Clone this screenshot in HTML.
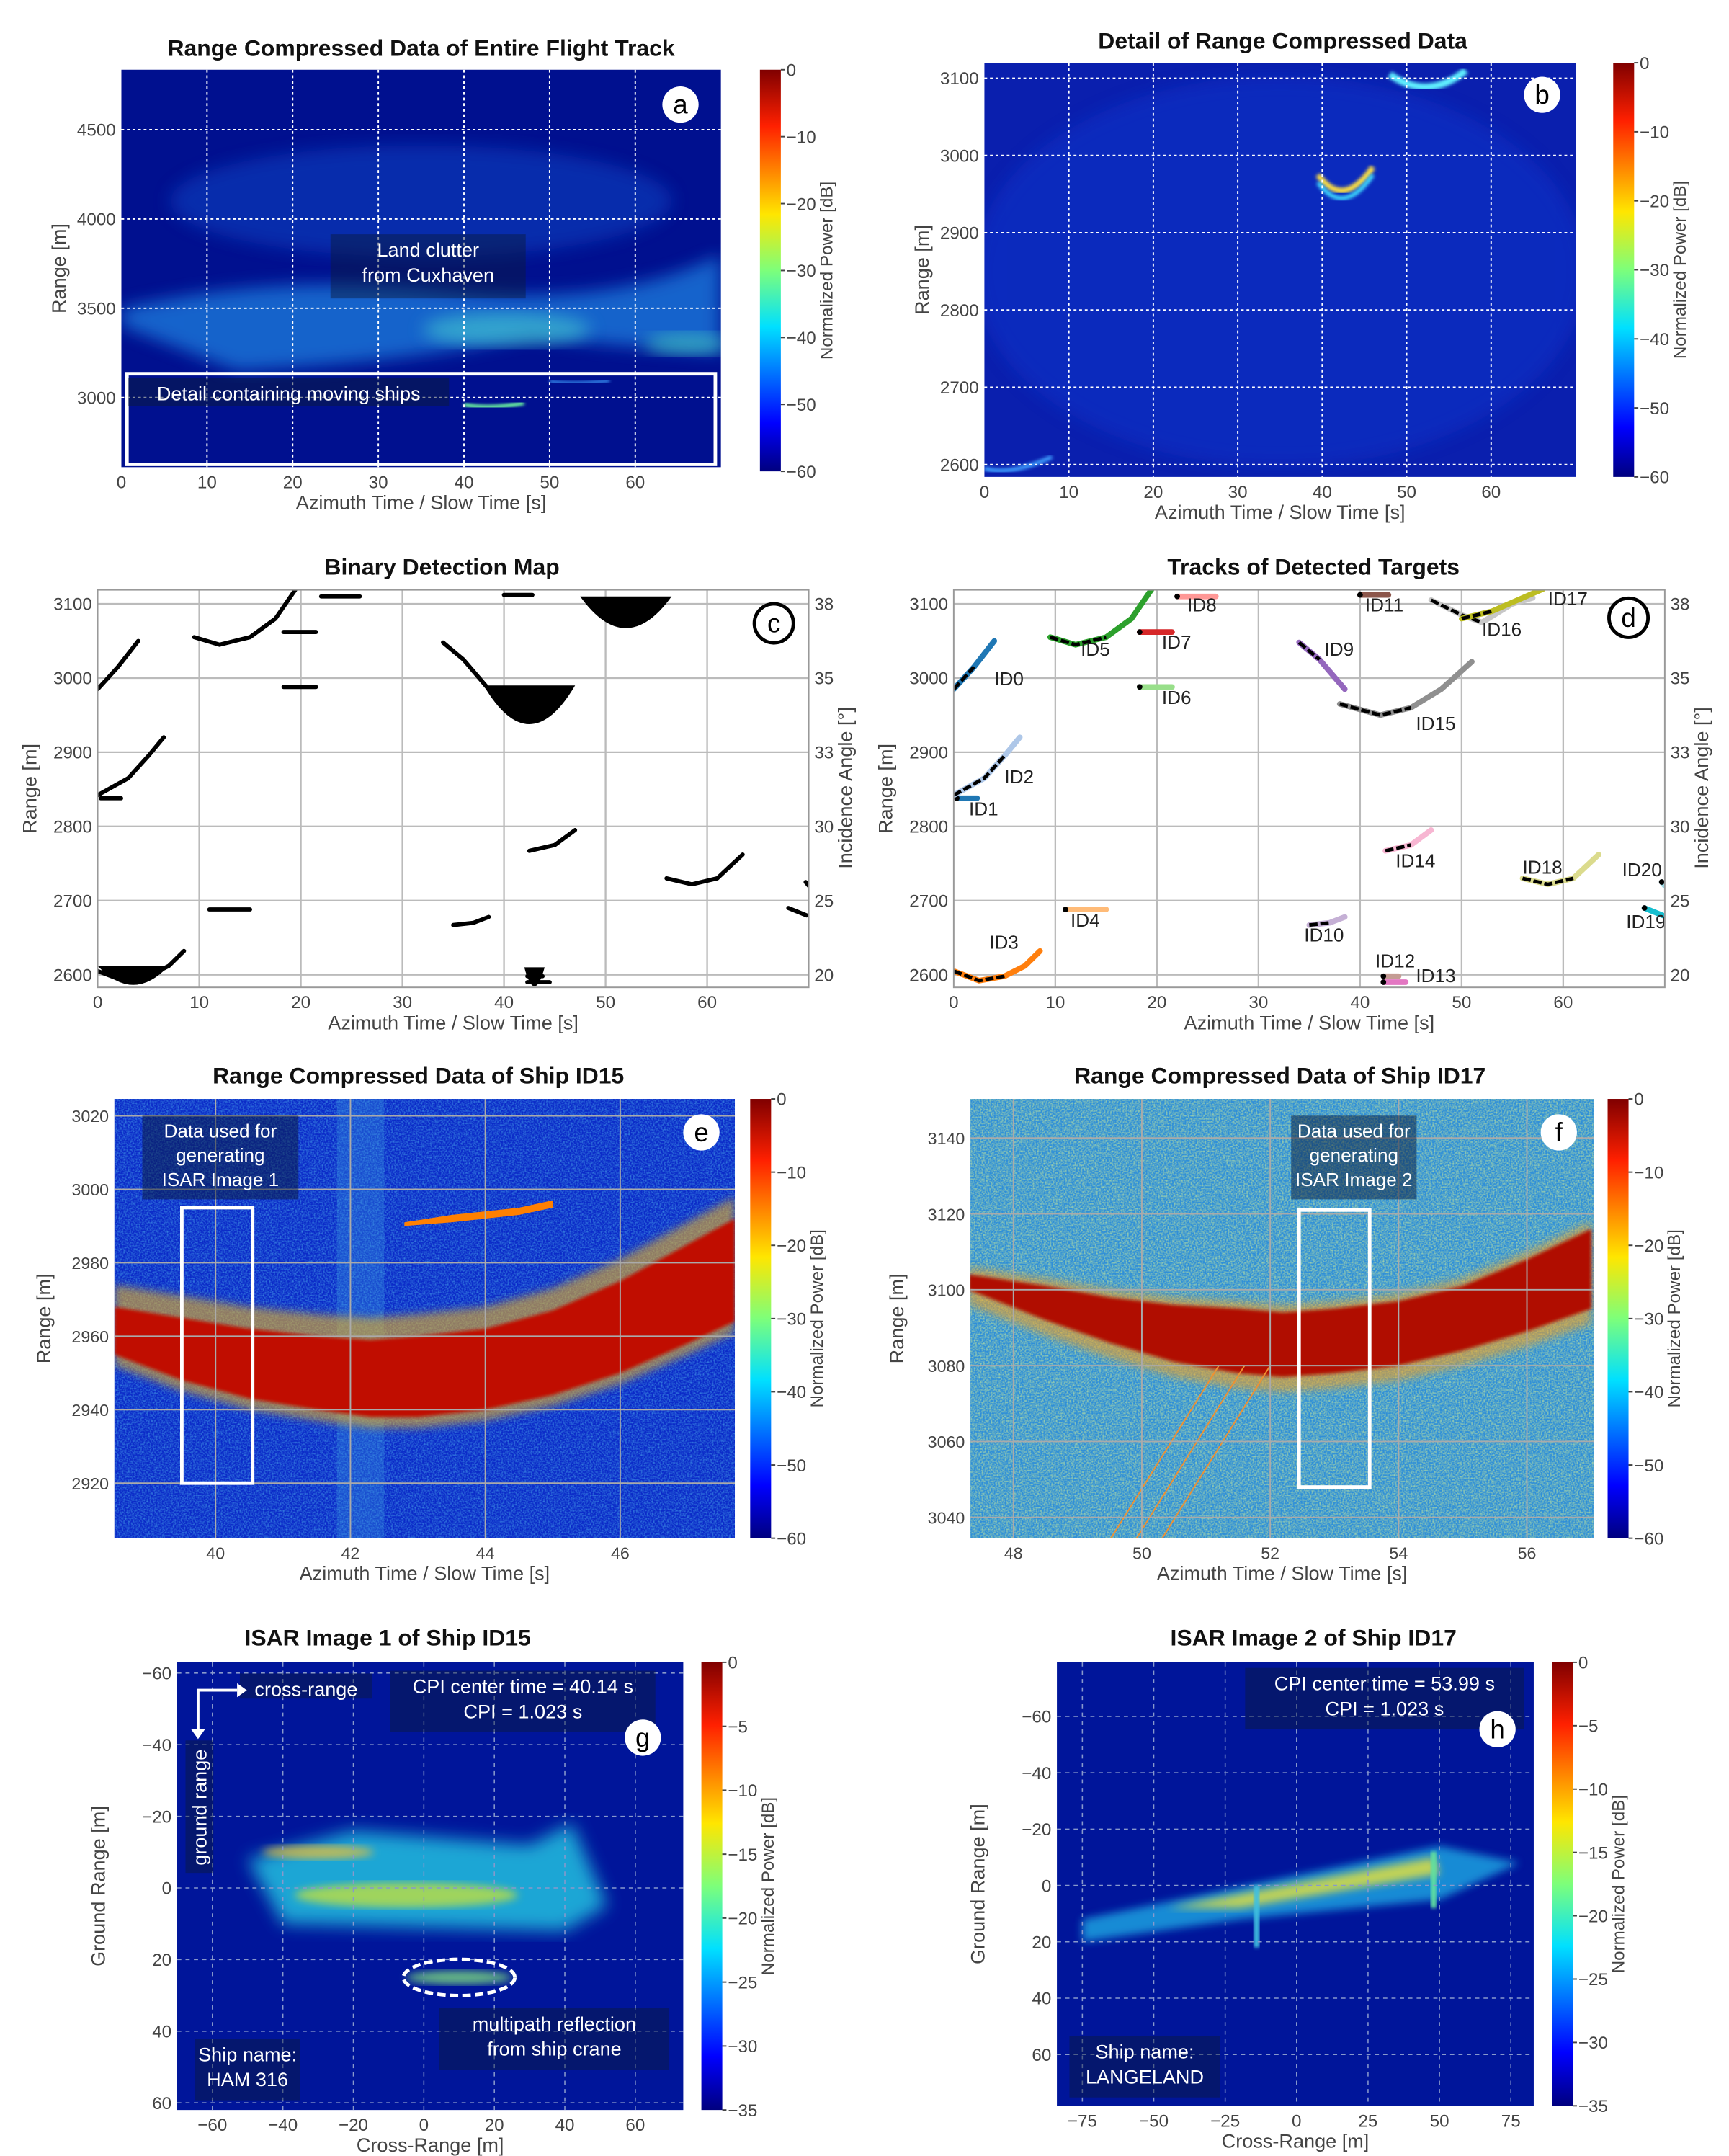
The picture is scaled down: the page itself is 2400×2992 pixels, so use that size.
<!DOCTYPE html>
<html><head><meta charset="utf-8"><style>
html,body{margin:0;padding:0;background:#fff}
svg{display:block}
text{font-family:"Liberation Sans",sans-serif}
</style></head><body>
<svg id="fig" xmlns="http://www.w3.org/2000/svg" width="2400" height="2992" viewBox="0 0 1240 1546">
<defs>
<linearGradient id="jet" x1="0" y1="1" x2="0" y2="0">
<stop offset="0" stop-color="#00007f"/><stop offset="0.12" stop-color="#0000ff"/><stop offset="0.36" stop-color="#00e0ff"/><stop offset="0.5" stop-color="#7dff7a"/><stop offset="0.64" stop-color="#ffe600"/><stop offset="0.86" stop-color="#ff2000"/><stop offset="1" stop-color="#800000"/>
</linearGradient>
<filter id="blur3"><feGaussianBlur stdDeviation="3"/></filter>
<filter id="blur6"><feGaussianBlur stdDeviation="6"/></filter>
<filter id="blur1"><feGaussianBlur stdDeviation="1.2"/></filter>
<filter id="noiseE" x="0" y="0" width="1" height="1"><feTurbulence type="fractalNoise" baseFrequency="0.9" numOctaves="1" seed="3"/><feColorMatrix values="0 0 0 0 0.1  0 0 0 0 0.55  0 0 0 0 0.9  0 0 0 1.2 -0.45"/></filter>
<filter id="noiseF" x="0" y="0" width="1" height="1"><feTurbulence type="fractalNoise" baseFrequency="0.9" numOctaves="1" seed="7"/><feColorMatrix values="0 0 0 0 0.7  0 0 0 0 0.9  0 0 0 0 0.3  0 0 0 1.4 -0.5"/></filter>
<clipPath id="clipA"><rect x="87" y="50" width="430" height="285"/></clipPath>
<clipPath id="clipB"><rect x="706" y="45" width="424" height="297"/></clipPath>
<clipPath id="clipC"><rect x="70" y="423" width="510" height="285"/></clipPath>
<clipPath id="clipD"><rect x="684" y="423" width="510" height="285"/></clipPath>
<clipPath id="clipE"><rect x="82" y="788" width="445" height="315"/></clipPath>
<clipPath id="clipF"><rect x="696" y="788" width="447" height="315"/></clipPath>
<clipPath id="clipG"><rect x="127" y="1192" width="363" height="321"/></clipPath>
<clipPath id="clipH"><rect x="758" y="1192" width="342" height="318"/></clipPath>
</defs>
<g id="root"></g>
</svg>
<script>
// ---------- data ----------
const timeTicksA = [0,10,20,30,40,50,60];
const rangeTicksA = [3000,3500,4000,4500];
const rangeTicksB = [2600,2700,2800,2900,3000,3100];
const angleTicks = [20,25,30,33,35,38];
const rangeTicksE = [2920,2940,2960,2980,3000,3020];
const timeTicksE = [40,42,44,46];
const rangeTicksF = [3040,3060,3080,3100,3120,3140];
const timeTicksF = [48,50,52,54,56];
const crossTicksG = [-60,-40,-20,0,20,40,60];
const groundTicksG = [-60,-40,-20,0,20,40,60];
const crossTicksH = [-75,-50,-25,0,25,50,75];
const groundTicksH = [-60,-40,-20,0,20,40,60];
const cbTicks60 = [0,-10,-20,-30,-40,-50,-60];
const cbTicks35 = [0,-5,-10,-15,-20,-25,-30,-35];
const trackIds = ["ID0","ID1","ID2","ID3","ID4","ID5","ID6","ID7","ID8","ID9","ID10","ID11","ID12","ID13","ID14","ID15","ID16","ID17","ID18","ID19","ID20"];
const trackColors = ["#1f77b4","#1f77b4","#aec7e8","#ff7f0e","#ffbb78","#2ca02c","#98df8a","#d62728","#ff9896","#9467bd","#c5b0d5","#8c564b","#c49c94","#e377c2","#f7b6d2","#8f8f8f","#c7c7c7","#bcbd22","#dbdb8d","#17becf","#9edae5"];
const trackPoints = [
 [[0,2985],[2,3015],[4,3050]],
 [[0.3,2838],[2.3,2838]],
 [[0,2842],[3,2865],[5,2895],[6.5,2920]],
 [[0,2605],[2.5,2592],[5,2598],[7,2612],[8.5,2632]],
 [[11,2688],[15,2688]],
 [[9.5,3055],[12,3045],[15,3055],[17.5,3080],[19.5,3120]],
 [[18.3,2988],[21.5,2988]],
 [[18.3,3062],[21.5,3062]],
 [[22,3110],[25.8,3110]],
 [[34,3048],[36,3025],[38.5,2985]],
 [[35,2667],[37,2670],[38.5,2678]],
 [[40,3112],[42.8,3112]],
 [[42.3,2598],[43.8,2598]],
 [[42.3,2590],[44.5,2590]],
 [[42.5,2767],[45,2775],[47,2795]],
 [[38,2965],[42,2950],[45,2960],[48,2985],[51,3022]],
 [[47,3105],[50,3085],[52,3075],[55,3100],[57,3108]],
 [[50,3080],[53,3090],[58,3120]],
 [[56,2730],[58.5,2722],[61,2730],[63.5,2762]],
 [[68,2690],[69.8,2680]],
 [[69.7,2725],[70,2720]]
];
const trackLabelPos = [[4,2990],[1.5,2815],[5,2858],[3.5,2635],[11.5,2665],[12.5,3030],[20.5,2965],[20.5,3040],[23,3090],[36.5,3030],[34.5,2645],[40.5,3090],[41.5,2610],[45.5,2590],[43.5,2745],[45.5,2930],[52,3057],[58.5,3098],[56,2736],[66.2,2663],[65.8,2733]];
// binary map blobs [t0, t1, rangeBottom, rangeTop]
const blobT = [[38,47,2935,2990],[47.5,56.5,3065,3110],[0,7,2585,2612],[42,44,2583,2610]];
// panel e/f arc bands: azimuth samples and band lower/upper range
const arcTimeE = [38.5,39.5,40.5,41.5,42.3,43,44,45,46,47,47.7];
const arcLowE = [2955,2948,2943,2940,2938,2938,2940,2944,2950,2958,2964];
const arcHighE = [2968,2965,2962,2960,2959,2960,2962,2967,2975,2985,2992];
const arcTimeF = [47.3,48.5,49.5,50.5,51.5,52.2,53,54,55,56,57];
const arcLowF = [3100,3092,3086,3081,3078,3077,3078,3080,3084,3089,3095];
const arcHighF = [3104,3101,3098,3096,3095,3094,3095,3097,3101,3108,3116];

// ---------- helpers ----------
const NS="http://www.w3.org/2000/svg";
const root=document.getElementById('root');
function el(tag,attrs,parent,txt){const e=document.createElementNS(NS,tag);for(const k in attrs)e.setAttribute(k,attrs[k]);if(txt!==undefined)e.textContent=txt;(parent||root).appendChild(e);return e;}
function lin(d0,d1,r0,r1){return v=>r0+(v-d0)/(d1-d0)*(r1-r0);}
function panel(p){
  p.sx=lin(p.xd[0],p.xd[1],p.px[0],p.px[1]);
  p.sy=lin(p.yd[0],p.yd[1],p.py[0],p.py[1]);
  p.g=el('g',{});
  
  
  return p;
}
function frame(p,bg){
  const r=el('rect',{x:p.px[0],y:p.py[0],width:p.px[1]-p.px[0],height:p.py[1]-p.py[0],fill:bg},p.g);
  
  
}
function grid(p,xt,yt,col,dash,w){
  const g=el('g',{'clip-path':p.clip},p.g);
  
  
  xt.forEach(v=>el('line',{x1:p.sx(v),x2:p.sx(v),y1:p.py[0],y2:p.py[1],stroke:col,'stroke-width':w,'stroke-dasharray':dash},g));
  yt.forEach(v=>el('line',{y1:p.sy(v),y2:p.sy(v),x1:p.px[0],x2:p.px[1],stroke:col,'stroke-width':w,'stroke-dasharray':dash},g));
}
function axes(p,xt,yt,xl,yl,fs){
  fs=fs||12.5;
  const gx=el('g',{},p.g);
  
  
  xt.forEach(v=>{const t=el('text',{x:p.sx(v),y:p.py[1]+15,'font-size':fs,'text-anchor':'middle',fill:'#444'},gx,String(v).replace('-','−'));});
  const xt2=el('text',{x:(p.px[0]+p.px[1])/2,y:p.py[1]+30,'font-size':14,'text-anchor':'middle',fill:'#444'},gx,xl);
  
  
  const gy=el('g',{},p.g);
  
  
  yt.forEach(v=>{const t=el('text',{x:p.px[0]-4,y:p.sy(v)+4.5,'font-size':fs,'text-anchor':'end',fill:'#444'},gy,String(v).replace('-','−'));});
  const yx=p.px[0]-(p.ylo||40), yy=(p.py[0]+p.py[1])/2;
  const yt2=el('text',{x:yx,y:yy,'font-size':14,'text-anchor':'middle',fill:'#444',transform:`rotate(-90 ${yx} ${yy})`},gy,yl);
  
  
}
function title(x,y,t){const e=el('text',{x:x,y:y,'font-size':16.5,'font-weight':'bold','text-anchor':'middle',fill:'#111'},root,t);}
function badge(x,y,t,dark){const g=el('g',{});
  el('circle',{cx:x,cy:y,r:dark?14:13,fill:'#fff',stroke:dark?'#000':'none','stroke-width':2.5},g);
  el('text',{x:x,y:y+6.5,'font-size':19,'text-anchor':'middle',fill:'#000'},g,t);}
function colorbar(x,y0,y1,ticks,vmin,label){
  const g=el('g',{});
  el('rect',{x:x,y:y0,width:15,height:y1-y0,fill:'url(#jet)'},g);
  const s=lin(0,vmin,y0,y1);
  ticks.forEach(v=>{el('line',{x1:x+15,x2:x+18,y1:s(v),y2:s(v),stroke:'#444'},g);const t=el('text',{x:x+19,y:s(v)+4.5,'font-size':12.5,fill:'#444'},g,String(v).replace('-','−'));});
  const cx=x+52,cy=(y0+y1)/2;
  const lt=el('text',{x:cx,y:cy,'font-size':12.5,'text-anchor':'middle',fill:'#444',transform:`rotate(-90 ${cx} ${cy})`},g,label);
  
}
function textBox(x,y,w,h,lines,fs,parent,opacity){
  const g=el('g',{},parent);
  el('rect',{x:x,y:y,width:w,height:h,fill:'#0a1a3a','fill-opacity':opacity||0.6},g);
  lines.forEach((l,i)=>el('text',{x:x+w/2,y:y+fs+2+i*(fs+4),'font-size':fs,'text-anchor':'middle',fill:'#fff'},g,l));
  return g;
}
function pathFrom(p,pts){return pts.map((q,i)=>(i?'L':'M')+p.sx(q[0]).toFixed(1)+' '+p.sy(q[1]).toFixed(1)).join(' ');}
const CB='Normalized Power [dB]';
const AZ='Azimuth Time / Slow Time [s]';

// ---------- panel a ----------
title(302,40,'Range Compressed Data of Entire Flight Track');
const A=panel({name:'panel-a',px:[87,517],xd:[0,70],py:[50,335],yd:[4836,2610],clip:'url(#clipA)'});
frame(A,'#00108f');
{const g=el('g',{'clip-path':A.clip},A.g);
 el('path',{d:`M87 ${A.sy(3500)} Q200 ${A.sy(3700)} 320 ${A.sy(3600)} T517 ${A.sy(3800)} L517 ${A.sy(3250)} Q420 ${A.sy(3300)} 380 ${A.sy(3350)} Q300 ${A.sy(3200)} 170 ${A.sy(3150)} Q120 ${A.sy(3300)} 87 ${A.sy(3400)} Z`,fill:'#1f7fe0',filter:'url(#blur6)',opacity:0.75},g);
 el('ellipse',{cx:A.sx(45),cy:A.sy(3380),rx:60,ry:12,fill:'#40c0d0',filter:'url(#blur6)',opacity:0.7},g);
 el('ellipse',{cx:A.sx(66),cy:A.sy(3300),rx:30,ry:8,fill:'#40c0c0',filter:'url(#blur6)',opacity:0.7},g);
 el('ellipse',{cx:A.sx(35),cy:A.sy(4100),rx:180,ry:40,fill:'#0d40c0',filter:'url(#blur6)',opacity:0.6},g);
 el('path',{d:`M${A.sx(40)} ${A.sy(2960)} Q${A.sx(43)} ${A.sy(2930)} ${A.sx(47)} ${A.sy(2970)}`,stroke:'#70ffa0','stroke-width':3,fill:'none',filter:'url(#blur1)'},g);
 el('path',{d:`M${A.sx(50)} ${A.sy(3090)} Q${A.sx(53)} ${A.sy(3070)} ${A.sx(57)} ${A.sy(3095)}`,stroke:'#40a0ff','stroke-width':2,fill:'none',filter:'url(#blur1)'},g);}
grid(A,[10,20,30,40,50,60],rangeTicksA,'#fff','2,2',1);
textBox(237,168,140,46,['Land clutter','from Cuxhaven'],14,A.g,0.45);
{const r=el('rect',{x:91,y:268,width:422,height:65,fill:'none',stroke:'#fff','stroke-width':2.5},A.g);}
textBox(92,271,230,20,['Detail containing moving ships'],14,A.g,0.5);
axes(A,timeTicksA,rangeTicksA,AZ,'Range [m]');
badge(488,75,'a',false);
colorbar(545,50,338,cbTicks60,-60,CB);

// ---------- panel b ----------
title(920,35,'Detail of Range Compressed Data');
const B=panel({name:'panel-b',px:[706,1130],xd:[0,70],py:[45,342],yd:[3120,2584],clip:'url(#clipB)'});
frame(B,'#0a1fae');
{const g=el('g',{'clip-path':B.clip},B.g);
 el('ellipse',{cx:B.sx(35),cy:B.sy(2850),rx:220,ry:140,fill:'#1030c8',filter:'url(#blur6)',opacity:0.6},g);
 el('path',{d:`M${B.sx(39.5)} ${B.sy(2975)} Q${B.sx(42.5)} ${B.sy(2930)} ${B.sx(46)} ${B.sy(2985)}`,stroke:'#ffe040','stroke-width':4,fill:'none',filter:'url(#blur1)'},g);
 el('path',{d:`M${B.sx(39.5)} ${B.sy(2965)} Q${B.sx(42.5)} ${B.sy(2920)} ${B.sx(46)} ${B.sy(2975)}`,stroke:'#40e0ff','stroke-width':3,fill:'none',filter:'url(#blur1)'},g);
 el('path',{d:`M${B.sx(48)} ${B.sy(3105)} Q${B.sx(52.5)} ${B.sy(3070)} ${B.sx(57)} ${B.sy(3110)}`,stroke:'#60f0ff','stroke-width':5,fill:'none',filter:'url(#blur1)'},g);
 el('path',{d:`M${B.sx(0)} ${B.sy(2595)} Q${B.sx(3)} ${B.sy(2585)} ${B.sx(8)} ${B.sy(2610)}`,stroke:'#40a0ff','stroke-width':3,fill:'none',filter:'url(#blur1)'},g);}
grid(B,[10,20,30,40,50,60],rangeTicksB,'#fff','2,2',1);
axes(B,timeTicksA,rangeTicksB,AZ,'Range [m]');
badge(1106,68,'b',false);
colorbar(1157,45,342,cbTicks60,-60,CB);

// ---------- panel c ----------
title(317,412,'Binary Detection Map');
const C=panel({name:'panel-c',px:[70,580],xd:[0,70],py:[423,708],yd:[3118.8,2583],clip:'url(#clipC)',ylo:44});
frame(C,'#fff');
grid(C,[10,20,30,40,50,60],rangeTicksB,'#bbb','',1.2);
{const g=el('g',{'clip-path':C.clip},C.g);
 trackPoints.forEach((pts,i)=>{if(i===15||i===16||i===17)return;const pth=el('path',{d:pathFrom(C,pts),stroke:'#000','stroke-width':3,fill:'none','stroke-linecap':'round','stroke-linejoin':'round'},g);});
 blobT.forEach(b=>{const cx=(C.sx(b[0])+C.sx(b[1]))/2;const top=C.sy(b[3]),bot=C.sy(b[2]);
  const e=el('path',{d:`M${C.sx(b[0])} ${top} Q${cx} ${bot+(bot-top)*0.9} ${C.sx(b[1])} ${top} Z`,fill:'#000'},g);});}
el('rect',{x:70,y:423,width:510,height:285,fill:'none',stroke:'#999'},C.g);
axes(C,timeTicksA,rangeTicksB,AZ,'Range [m]');
{angleTicks.forEach((v,i)=>{const t=el('text',{x:584,y:C.sy(rangeTicksB[i])+4.5,'font-size':12.5,fill:'#444'},C.g,String(v));});
 const t=el('text',{x:611,y:565,'font-size':14,'text-anchor':'middle',fill:'#444',transform:'rotate(-90 611 565)'},C.g,'Incidence Angle [°]');}
badge(555,447,'c',true);

// ---------- panel d ----------
title(942,412,'Tracks of Detected Targets');
const D=panel({name:'panel-d',px:[684,1194],xd:[0,70],py:[423,708],yd:[3118.8,2583],clip:'url(#clipD)',ylo:44});
frame(D,'#fff');
grid(D,[10,20,30,40,50,60],rangeTicksB,'#bbb','',1.2);
{const g=el('g',{'clip-path':D.clip},D.g);
 const gl=el('g',{},D.g);
 trackPoints.forEach((pts,i)=>{
  const pth=el('path',{d:pathFrom(D,pts),stroke:trackColors[i],'stroke-width':4,fill:'none','stroke-linecap':'round'},g);
  
  
  const half=pts.slice(0,Math.max(2,Math.ceil(pts.length*0.6)));
  if(pts.length>2)el('path',{d:pathFrom(D,half),stroke:'#000','stroke-width':2.5,fill:'none','stroke-dasharray':'6,2'},g);
  else el('circle',{cx:D.sx(pts[0][0]),cy:D.sy(pts[0][1]),r:2,fill:'#000'},g);
  const lp=trackLabelPos[i];
  const t=el('text',{x:D.sx(lp[0]),y:D.sy(lp[1]),'font-size':13.5,fill:'#222'},gl,trackIds[i]);
  
  
 });}
el('rect',{x:684,y:423,width:510,height:285,fill:'none',stroke:'#999'},D.g);
axes(D,timeTicksA,rangeTicksB,AZ,'Range [m]');
{angleTicks.forEach((v,i)=>{const t=el('text',{x:1198,y:D.sy(rangeTicksB[i])+4.5,'font-size':12.5,fill:'#444'},D.g,String(v));});
 const t=el('text',{x:1225,y:565,'font-size':14,'text-anchor':'middle',fill:'#444',transform:'rotate(-90 1225 565)'},D.g,'Incidence Angle [°]');}
badge(1168,443,'d',true);

// ---------- band helper ----------
function band(p,ts,lo,hi){const up=ts.map((t,i)=>[t,hi[i]]);const dn=ts.map((t,i)=>[t,lo[i]]).reverse();return pathFrom(p,up)+' '+pathFrom(p,dn).replace('M','L')+' Z';}

// ---------- panel e ----------
title(300,777,'Range Compressed Data of Ship ID15');
const E=panel({name:'panel-e',px:[82,527],xd:[38.5,47.7],py:[788,1103],yd:[3024.6,2905],clip:'url(#clipE)',ylo:46});
frame(E,'#0b2bc8');
{const g=el('g',{'clip-path':E.clip},E.g);
 el('rect',{x:82,y:788,width:445,height:315,filter:'url(#noiseE)'},g);
 el('rect',{x:E.sx(41.8),y:788,width:E.sx(42.5)-E.sx(41.8),height:315,fill:'#3aa0e0',opacity:0.3},g);
 el('path',{d:band(E,arcTimeE,arcLowE.map(v=>v-3),arcHighE.map(v=>v+6)),fill:'#e8b020',opacity:0.6,filter:'url(#blur3)'},g);
 const bp=el('path',{d:band(E,arcTimeE,arcLowE,arcHighE),fill:'#c01000',filter:'url(#blur1)'},g);
 
 
 el('path',{d:band(E,[42.8,43.5,44.5,45],[2990,2991,2993,2995],[2991,2993,2995,2997]),fill:'#ff8000'},g);}
grid(E,timeTicksE,rangeTicksE,'#aaa','',1);
textBox(102,800,112,60,['Data used for','generating','ISAR Image 1'],13.5,E.g,0.5);
el('rect',{x:E.sx(39.5),y:E.sy(2995),width:E.sx(40.55)-E.sx(39.5),height:E.sy(2920)-E.sy(2995),fill:'none',stroke:'#fff','stroke-width':2.5},E.g);
axes(E,timeTicksE,rangeTicksE,AZ,'Range [m]',12);
badge(503,812,'e',false);
colorbar(538,788,1103,cbTicks60,-60,CB);

// ---------- panel f ----------
title(918,777,'Range Compressed Data of Ship ID17');
const F=panel({name:'panel-f',px:[696,1143],xd:[47.33,57.04],py:[788,1103],yd:[3150.3,3034.5],clip:'url(#clipF)',ylo:48});
frame(F,'#2f8fd8');
{const g=el('g',{'clip-path':F.clip},F.g);
 el('rect',{x:696,y:788,width:447,height:315,filter:'url(#noiseF)'},g);
 el('path',{d:band(F,arcTimeF,arcLowF.map(v=>v-4),arcHighF.map(v=>v+2)),fill:'#f0a020',opacity:0.6,filter:'url(#blur3)'},g);
 const bp=el('path',{d:band(F,arcTimeF,arcLowF,arcHighF),fill:'#b01000',filter:'url(#blur1)'},g);
 
 
 [0,1,2].forEach(k=>el('line',{x1:F.sx(51.2+k*0.4),y1:F.sy(3080),x2:F.sx(49.5+k*0.4),y2:F.sy(3034),stroke:'#f09030','stroke-width':1},g));}
grid(F,timeTicksF,rangeTicksF,'#aaa','',1);
textBox(926,800,90,60,['Data used for','generating','ISAR Image 2'],13.5,F.g,0.5);
el('rect',{x:F.sx(52.45),y:F.sy(3121),width:F.sx(53.55)-F.sx(52.45),height:F.sy(3048)-F.sy(3121),fill:'none',stroke:'#fff','stroke-width':2.5},F.g);
axes(F,timeTicksF,rangeTicksF,AZ,'Range [m]',12);
badge(1118,812,'f',false);
colorbar(1153,788,1103,cbTicks60,-60,CB);

// ---------- panel g ----------
title(278,1180,'ISAR Image 1 of Ship ID15');
const G=panel({name:'panel-g',px:[127,490],xd:[-70,73.6],py:[1192,1513],yd:[-63,62],clip:'url(#clipG)',ylo:52});
frame(G,'#00159a');
{const g=el('g',{'clip-path':G.clip},G.g);
 el('path',{d:`M${G.sx(-50)} ${G.sy(-8)} L${G.sx(-20)} ${G.sy(-16)} L${G.sx(30)} ${G.sy(-12)} L${G.sx(42)} ${G.sy(-18)} L${G.sx(52)} ${G.sy(5)} L${G.sx(40)} ${G.sy(12)} L${G.sx(-40)} ${G.sy(10)} Z`,fill:'#20c0e0',filter:'url(#blur6)',opacity:0.85},g);
 el('ellipse',{cx:G.sx(-5),cy:G.sy(2),rx:80,ry:9,fill:'#c0e040',filter:'url(#blur3)',opacity:0.8},g);
 el('ellipse',{cx:G.sx(-30),cy:G.sy(-10),rx:40,ry:5,fill:'#e0c040',filter:'url(#blur3)',opacity:0.8},g);
 el('ellipse',{cx:G.sx(10),cy:G.sy(25),rx:38,ry:5,fill:'#80e080',filter:'url(#blur3)',opacity:0.8},g);}
grid(G,crossTicksG,groundTicksG,'#8899cc','3,3',0.8);
{const e=el('ellipse',{cx:G.sx(10),cy:G.sy(25),rx:40,ry:13,fill:'none',stroke:'#fff','stroke-width':2.5,'stroke-dasharray':'6,3'},G.g);}
textBox(280,1198,190,44,['CPI center time = 40.14 s','CPI = 1.023 s'],14,G.g,0.45);
textBox(172,1200,95,18,['cross-range'],14,G.g,0.45);
textBox(315,1440,165,44,['multipath reflection','from ship crane'],14,G.g,0.45);
textBox(140,1462,75,44,['Ship name:','HAM 316'],14,G.g,0.45);
{const gg=el('g',{},G.g);
 el('path',{d:'M142 1240 L142 1212 L170 1212',stroke:'#fff','stroke-width':2,fill:'none'},gg);
 el('path',{d:'M170 1207 L177 1212 L170 1217 Z M137 1240 L142 1247 L147 1240 Z',fill:'#fff'},gg);
 el('rect',{x:133,y:1248,width:20,height:95,fill:'#0a1a3a','fill-opacity':0.45},gg);
 el('text',{x:148,y:1296,'font-size':14,fill:'#fff','text-anchor':'middle',transform:'rotate(-90 148 1296)'},gg,'ground range');}
axes(G,crossTicksG,groundTicksG,'Cross-Range [m]','Ground Range [m]');
badge(461,1246,'g',false);
colorbar(503,1192,1513,cbTicks35,-35,CB);

// ---------- panel h ----------
title(942,1180,'ISAR Image 2 of Ship ID17');
const H=panel({name:'panel-h',px:[758,1100],xd:[-83.9,83],py:[1192,1510],yd:[-79.2,78.2],clip:'url(#clipH)',ylo:52});
frame(H,'#00159a');
{const g=el('g',{'clip-path':H.clip},H.g);
 el('path',{d:`M${H.sx(-75)} ${H.sy(12)} L${H.sx(50)} ${H.sy(-14)} L${H.sx(78)} ${H.sy(-8)} L${H.sx(50)} ${H.sy(5)} L${H.sx(-20)} ${H.sy(12)} L${H.sx(-75)} ${H.sy(20)} Z`,fill:'#1aa0e0',filter:'url(#blur3)',opacity:0.85},g);
 el('path',{d:`M${H.sx(-45)} ${H.sy(8)} L${H.sx(48)} ${H.sy(-10)} L${H.sx(50)} ${H.sy(-4)} L${H.sx(-20)} ${H.sy(8)} Z`,fill:'#e0e040',filter:'url(#blur3)',opacity:0.85},g);
 el('rect',{x:H.sx(-15),y:H.sy(0),width:4,height:H.sy(22)-H.sy(0),fill:'#40c0e0',filter:'url(#blur1)'},g);
 el('rect',{x:H.sx(47),y:H.sy(-12),width:4,height:H.sy(8)-H.sy(-12),fill:'#60e0a0',filter:'url(#blur1)'},g);}
grid(H,crossTicksH,groundTicksH,'#8899cc','3,3',0.8);
textBox(893,1196,200,44,['CPI center time = 53.99 s','CPI = 1.023 s'],14,H.g,0.45);
textBox(767,1460,108,44,['Ship name:','LANGELAND'],14,H.g,0.45);
axes(H,crossTicksH,groundTicksH,'Cross-Range [m]','Ground Range [m]');
badge(1074,1240,'h',false);
colorbar(1113,1192,1510,cbTicks35,-35,CB);
</script>
</body></html>
